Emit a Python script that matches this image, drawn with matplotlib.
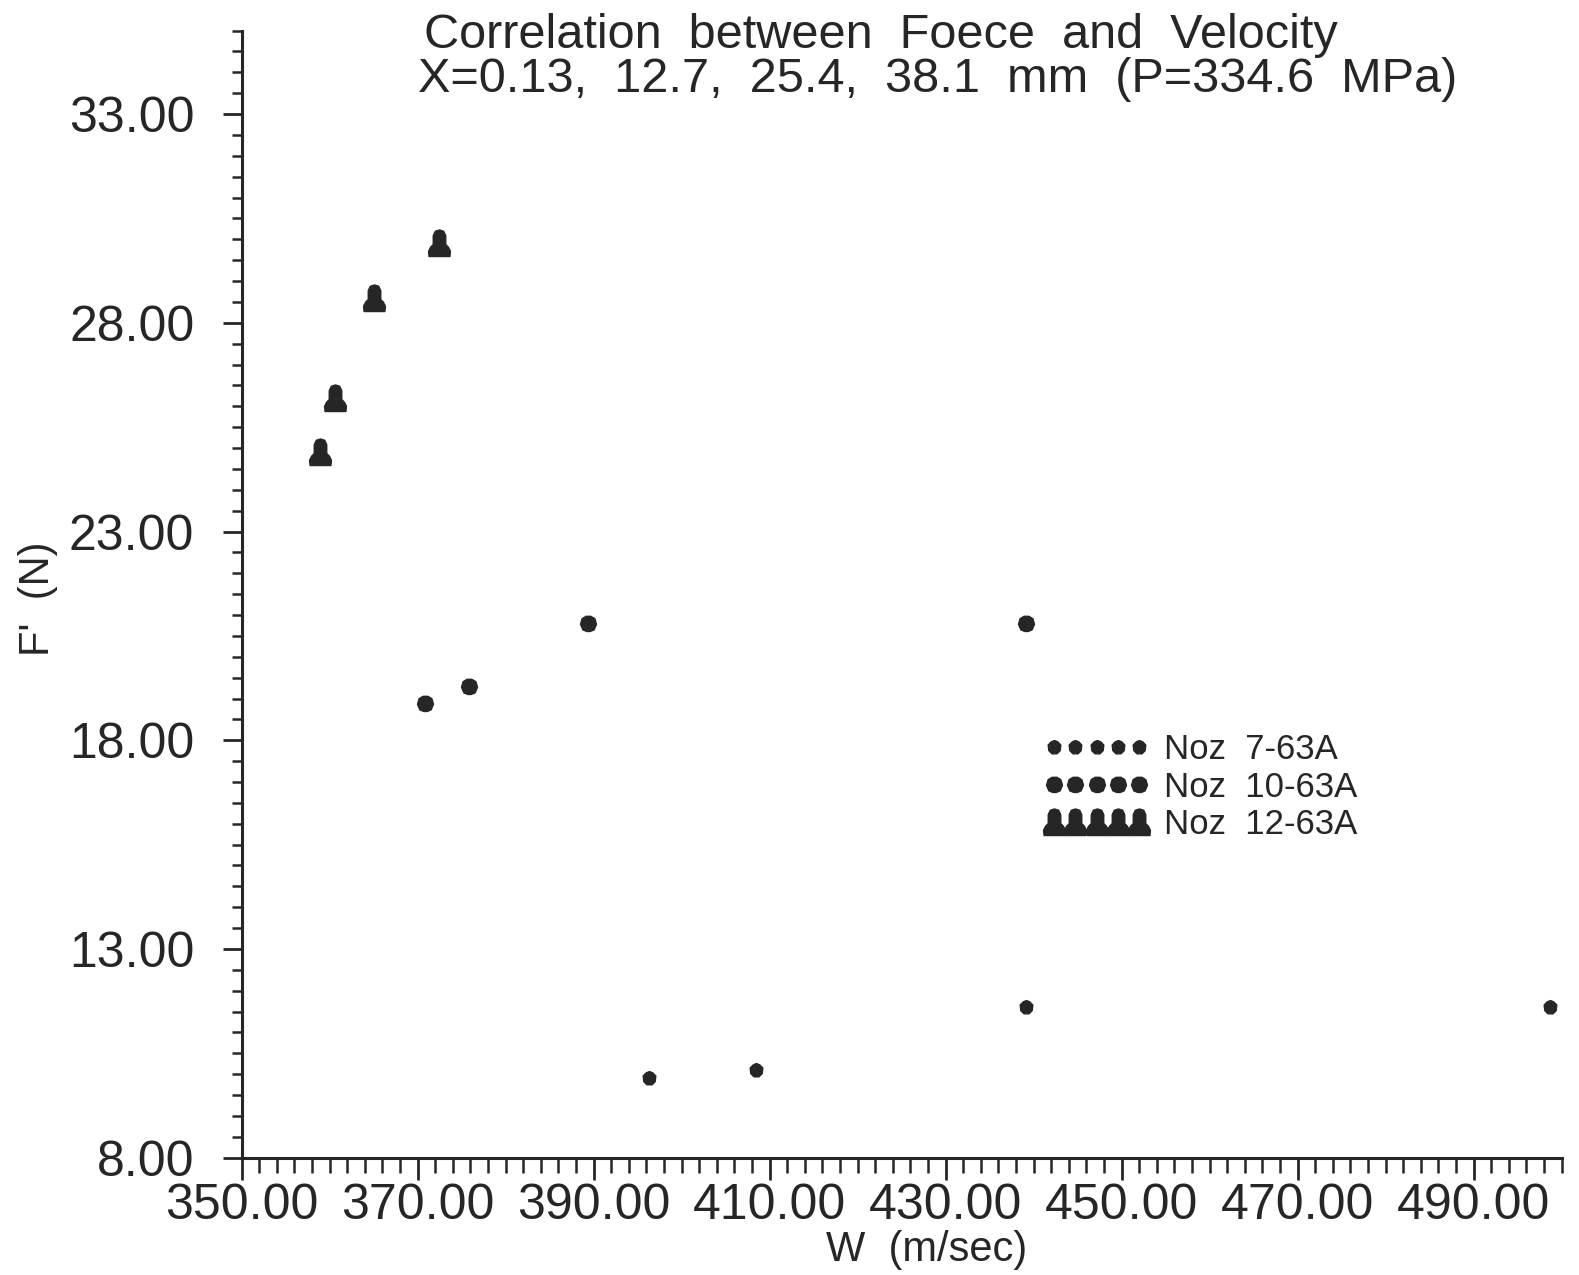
import matplotlib
matplotlib.use("Agg")
import matplotlib.pyplot as plt
from matplotlib.path import Path
from matplotlib.ticker import FixedLocator, MultipleLocator, FormatStrFormatter

plt.rcParams['font.family'] = ['Liberation Sans', 'DejaVu Sans']

# Velocity W (m/sec) and force F' (N) per nozzle
w_noz7 = [396.3, 408.5, 439.1, 498.7]
f_noz7 = [9.9, 10.1, 11.6, 11.6]

w_noz10 = [370.8, 375.8, 389.4, 439.1]
f_noz10 = [18.9, 19.3, 20.8, 20.8]

w_noz12 = [358.9, 360.6, 365.1, 372.4]
f_noz12 = [24.9, 26.2, 28.6, 29.9]

series_labels = ["Noz  7-63A", "Noz  10-63A", "Noz  12-63A"]

x_major = [350, 370, 390, 410, 430, 450, 470, 490]
y_major = [8, 13, 18, 23, 28, 33]

title_line1 = "Correlation  between  Foece  and  Velocity"
title_line2 = "X=0.13,  12.7,  25.4,  38.1  mm  (P=334.6  MPa)"
x_label = "W  (m/sec)"
y_label = "F'  (N)"

ink = "#262626"

# marker outlines
bell = Path([(-0.40, -0.50), (0.40, -0.50), (0.42, -0.30), (0.34, -0.14),
             (0.24, -0.04), (0.24, 0.30), (0.16, 0.47), (0.0, 0.52),
             (-0.16, 0.47), (-0.24, 0.30), (-0.24, -0.04), (-0.34, -0.14),
             (-0.42, -0.30), (-0.40, -0.50)], closed=True)
cloud = Path([(-0.50, -0.05), (-0.35, -0.40), (-0.10, -0.50), (0.10, -0.50),
              (0.35, -0.40), (0.50, -0.05), (0.40, 0.30), (0.15, 0.45),
              (-0.15, 0.45), (-0.40, 0.30), (-0.50, -0.05)], closed=True)
blob = Path([(0.0, 0.55), (0.25, 0.45), (0.50, 0.20), (0.45, -0.25),
             (0.20, -0.50), (-0.20, -0.50), (-0.45, -0.25), (-0.50, 0.20),
             (-0.25, 0.45), (0.0, 0.55)], closed=True)

fig = plt.figure(figsize=(15.79, 12.75), dpi=100)
ax = fig.add_axes([0.153, 0.092, 0.836, 0.884])

ax.plot(w_noz7, f_noz7, linestyle="none", marker=blob, markersize=10,
        color=ink, label=series_labels[0])
ax.plot(w_noz10, f_noz10, linestyle="none", marker=cloud, markersize=11.5,
        color=ink, label=series_labels[1])
ax.plot(w_noz12, f_noz12, linestyle="none", marker=bell, markersize=19.5,
        color=ink, label=series_labels[2])

ax.set_xlim(350, 500)
ax.set_ylim(8, 35)

for side in ("top", "right"):
    ax.spines[side].set_visible(False)
for side in ("left", "bottom"):
    ax.spines[side].set_linewidth(2.2)
    ax.spines[side].set_color(ink)

ax.xaxis.set_major_locator(FixedLocator(x_major))
ax.yaxis.set_major_locator(FixedLocator(y_major))
ax.xaxis.set_minor_locator(MultipleLocator(2))
ax.yaxis.set_minor_locator(MultipleLocator(0.5))
ax.xaxis.set_major_formatter(FormatStrFormatter("%.2f"))
ax.yaxis.set_major_formatter(FormatStrFormatter("%.2f"))

ax.tick_params(which="both", direction="out", color=ink, labelcolor=ink,
               labelsize=36)
ax.tick_params(axis="x", which="major", length=16, width=2.0, pad=2)
ax.tick_params(axis="x", which="minor", length=11, width=1.8)
ax.tick_params(axis="y", which="major", length=14, width=2.0, pad=20)
ax.tick_params(axis="y", which="minor", length=7, width=1.8)

fig.text(0.558, 0.972, title_line1, ha="center", va="center",
         fontsize=35, color=ink)
fig.text(0.594, 0.938, title_line2, ha="center", va="center",
         fontsize=35, color=ink)
fig.text(0.587, 0.020, x_label, ha="center", va="center",
         fontsize=30, color=ink)
fig.text(0.024, 0.530, y_label, ha="center", va="center",
         fontsize=30, color=ink, rotation=90)

leg = ax.legend(loc="upper left", bbox_to_anchor=(0.6076, 0.3765),
                numpoints=5, handlelength=3.05, handletextpad=0.42,
                labelspacing=0.12, frameon=False, fontsize=25,
                borderaxespad=0.0, borderpad=0.0)
for t in leg.get_texts():
    t.set_color(ink)

fig.savefig("out.png", dpi=100, facecolor="white")
